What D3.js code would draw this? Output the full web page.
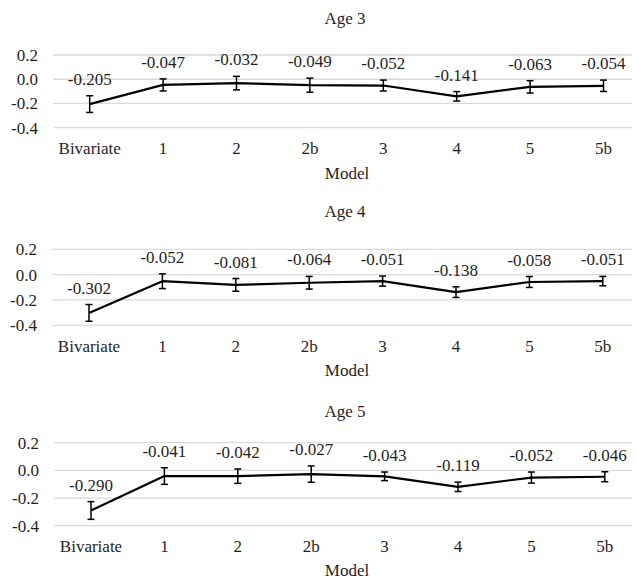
<!DOCTYPE html>
<html>
<head>
<meta charset="utf-8">
<script src="https://cdn.jsdelivr.net/npm/d3@7"></script>
<style>
  html, body { margin: 0; padding: 0; background: #fff; }
  svg { display: block; }
</style>
</head>
<body>
<svg id="chart" width="635" height="579"></svg>
<script>
// ---- data ----
const models = ["Bivariate", "1", "2", "2b", "3", "4", "5", "5b"];
const yTicks = [0.2, 0.0, -0.2, -0.4];
const panelTitles = ["Age 3", "Age 4", "Age 5"];
const xTitle = "Model";

const age3 = [-0.205, -0.047, -0.032, -0.049, -0.052, -0.141, -0.063, -0.054];
const age4 = [-0.302, -0.052, -0.081, -0.064, -0.051, -0.138, -0.058, -0.051];
const age5 = [-0.290, -0.041, -0.042, -0.027, -0.043, -0.119, -0.052, -0.046];

// error bar half-widths
const age3Err = [0.069, 0.050, 0.056, 0.058, 0.045, 0.039, 0.051, 0.047];
const age4Err = [0.066, 0.058, 0.050, 0.050, 0.040, 0.042, 0.043, 0.037];
const age5Err = [0.064, 0.060, 0.052, 0.059, 0.031, 0.034, 0.040, 0.036];

// ---- layout ----
const panels = [
  { title: panelTitles[0], values: age3, errs: age3Err, gridLeft: 53,   yTop: 55,    yBot: 127.7, titleY: 24,  catY: 153.5, modelY: 178.5, tickX: 38 },
  { title: panelTitles[1], values: age4, errs: age4Err, gridLeft: 52.3, yTop: 249.3, yBot: 325.3, titleY: 217, catY: 351.7, modelY: 375.5, tickX: 37 },
  { title: panelTitles[2], values: age5, errs: age5Err, gridLeft: 54.3, yTop: 442.7, yBot: 525.7, titleY: 417, catY: 552,   modelY: 576,   tickX: 39 }
];
const bandStep = 73.4;
const gridRight = 632;
const fontSize = 17;
const FONT = '"Liberation Serif", "Times New Roman", "DejaVu Serif", serif';
const TXT = "#1f1f1f";

const svg = d3.select("#chart");

function styleText(sel) {
  sel.style("font-family", FONT).style("font-size", fontSize + "px").style("fill", TXT);
}

panels.forEach(p => {
  const g = svg.append("g");
  const x = d3.scaleBand().domain(models)
    .range([p.gridLeft, p.gridLeft + bandStep * models.length]).padding(0);
  const y = d3.scaleLinear().domain([-0.4, 0.2]).range([p.yBot, p.yTop]);
  const cx = d => x(d) + x.bandwidth() / 2;

  // gridlines
  g.selectAll("line.grid").data(yTicks).enter().append("line")
    .attr("x1", p.gridLeft).attr("x2", gridRight)
    .attr("y1", d => y(d)).attr("y2", d => y(d))
    .attr("stroke", "#d9d9d9").attr("stroke-width", 1.3);

  // y axis
  const yAxis = d3.axisLeft(y).tickValues(yTicks).tickSize(0).tickPadding(0)
    .tickFormat(d => d3.format(".1f")(d).replace("−", "-"));
  const ya = g.append("g").attr("transform", `translate(${p.tickX},0)`).call(yAxis);
  ya.select(".domain").remove();
  ya.attr("font-family", null).attr("font-size", null);
  ya.selectAll("text").call(styleText);

  // category labels
  const xAxis = d3.axisBottom(x).tickSize(0).tickPadding(0);
  const xa = g.append("g").attr("transform", `translate(0,${p.catY})`).call(xAxis);
  xa.select(".domain").remove();
  xa.attr("font-family", null).attr("font-size", null);
  xa.selectAll("text").attr("dy", 0).attr("y", 0).call(styleText);

  // title
  g.append("text").attr("x", 345).attr("y", p.titleY).attr("text-anchor", "middle")
    .text(p.title).call(styleText);
  // x title
  g.append("text").attr("x", 347).attr("y", p.modelY).attr("text-anchor", "middle")
    .text(xTitle).call(styleText);

  const pts = models.map((m, i) => ({ m, v: p.values[i], e: p.errs[i] }));

  // line
  g.append("path").datum(pts)
    .attr("d", d3.line().x(d => cx(d.m)).y(d => y(d.v)))
    .attr("fill", "none").attr("stroke", "#000").attr("stroke-width", 2.2)
    .attr("stroke-linejoin", "round");

  // error bars
  const eb = g.selectAll("g.eb").data(pts).enter().append("g");
  eb.append("line")
    .attr("x1", d => cx(d.m)).attr("x2", d => cx(d.m))
    .attr("y1", d => y(d.v + d.e)).attr("y2", d => y(d.v - d.e))
    .attr("stroke", "#000").attr("stroke-width", 1.5);
  [1, -1].forEach(s => {
    eb.append("line")
      .attr("x1", d => cx(d.m) - 3.5).attr("x2", d => cx(d.m) + 3.5)
      .attr("y1", d => y(d.v + s * d.e)).attr("y2", d => y(d.v + s * d.e))
      .attr("stroke", "#000").attr("stroke-width", 1.5);
  });

  // value labels
  g.selectAll("text.val").data(pts).enter().append("text")
    .attr("x", d => cx(d.m)).attr("y", d => y(d.v + d.e) - 11)
    .attr("text-anchor", "middle")
    .text(d => d3.format(".3f")(d.v).replace("−", "-")).call(styleText);
});
</script>
</body>
</html>
